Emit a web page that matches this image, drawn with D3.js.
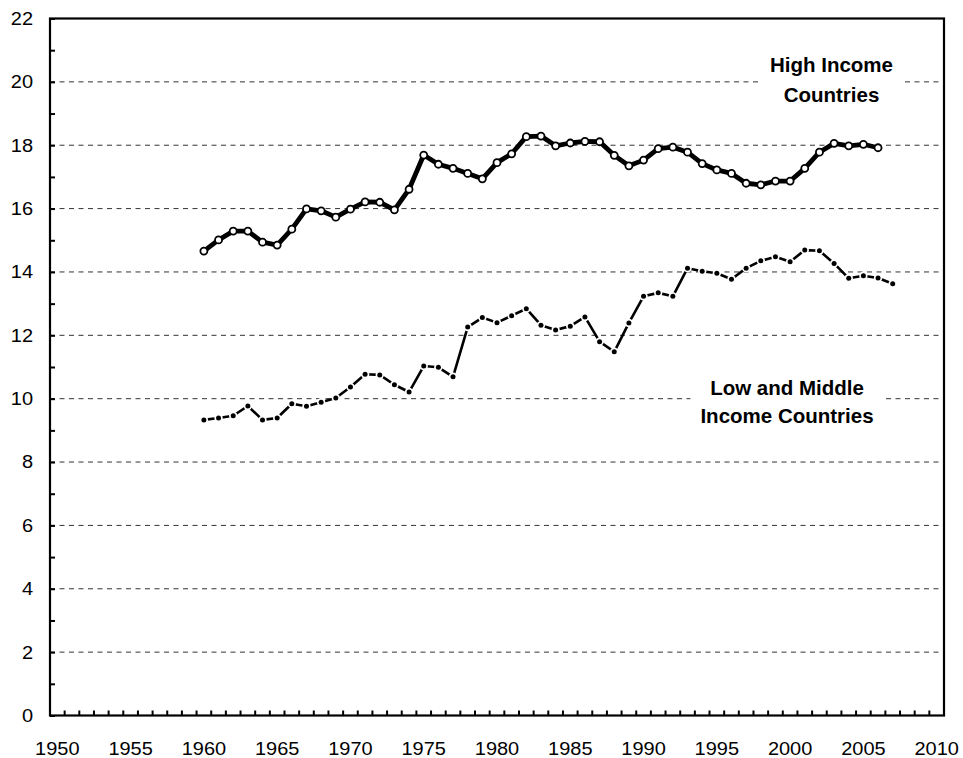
<!DOCTYPE html>
<html>
<head>
<meta charset="utf-8">
<script src="https://cdn.jsdelivr.net/npm/d3@7"></script>
<style>
  body { margin: 0; background: #fff; }
  svg { display: block; font-family: "Liberation Sans", Arial, sans-serif; }
</style>
</head>
<body>
<svg id="chart" width="963" height="758"></svg>
<script>
const categories = d3.range(1950, 2011);
const highYears = d3.range(1960, 2007);
const highValues = [14.66, 15.01, 15.29, 15.29, 14.94, 14.85, 15.35, 15.99, 15.93, 15.73,
  15.98, 16.21, 16.20, 15.96, 16.61, 17.69, 17.40, 17.27, 17.11, 16.94,
  17.45, 17.73, 18.27, 18.29, 17.98, 18.07, 18.12, 18.11, 17.68, 17.35,
  17.53, 17.89, 17.94, 17.78, 17.42, 17.22, 17.11, 16.80, 16.75, 16.87,
  16.87, 17.27, 17.78, 18.06, 17.98, 18.03, 17.92];
const lowYears = d3.range(1960, 2008);
const lowValues = [9.33, 9.39, 9.46, 9.77, 9.33, 9.39, 9.84, 9.76, 9.89, 10.02,
  10.37, 10.77, 10.75, 10.44, 10.21, 11.03, 10.99, 10.69, 12.26, 12.56,
  12.40, 12.62, 12.84, 12.32, 12.17, 12.29, 12.58, 11.80, 11.48, 12.39,
  13.23, 13.34, 13.23, 14.12, 14.02, 13.96, 13.77, 14.12, 14.35, 14.48,
  14.32, 14.69, 14.67, 14.27, 13.80, 13.88, 13.81, 13.63];
const yTicks = d3.range(0, 23, 1);
const xLabelTicks = d3.range(1950, 2011, 5);
const gridValues = d3.range(2, 21, 2);
const highLabel = ["High Income", "Countries"];
const lowLabel = ["Low and Middle", "Income Countries"];

const svg = d3.select("#chart");
const L = 50, R = 944, T = 18.5, B = 715.5;

const x = d3.scaleBand().domain(categories).range([L, R]).padding(0);
const y = d3.scaleLinear().domain([0, 22]).range([B, T]);
const cx = d => x(d) + x.bandwidth() / 2;

// gridlines
svg.append("g").selectAll("line").data(gridValues).join("line")
  .attr("x1", L).attr("x2", R)
  .attr("y1", d => y(d)).attr("y2", d => y(d))
  .attr("stroke", "#333").attr("stroke-width", 1)
  .attr("stroke-dasharray", "5,4.5");

// label backgrounds + text
function addLabel(lines, xc, baseline, lh, pad) {
  const g = svg.append("g");
  const rect = g.append("rect").attr("fill", "#fff");
  const t = g.append("text").attr("text-anchor", "middle")
    .style("font-weight", "bold").style("font-size", "20.5px").attr("fill", "#000");
  lines.forEach((s, i) => {
    t.append("tspan").attr("x", xc).attr("y", baseline + i * lh).text(s);
  });
  const bb = t.node().getBBox();
  rect.attr("x", bb.x - pad).attr("y", bb.y - 2).attr("width", bb.width + 2 * pad).attr("height", bb.height + 4);
}
addLabel(highLabel, 831.5, 72, 30, 10);
addLabel(lowLabel, 787, 394.5, 28, 10);

// lines
const line = (years) => d3.line().x((d, i) => cx(years[i])).y(d => y(d));

svg.append("path").datum(lowValues)
  .attr("d", line(lowYears))
  .attr("fill", "none").attr("stroke", "#000").attr("stroke-width", 2.6)
  .attr("stroke-linejoin", "round");
const lowG = svg.append("g");
lowG.selectAll("circle.w").data(lowValues).join("circle").attr("class", "w")
  .attr("cx", (d, i) => cx(lowYears[i])).attr("cy", d => y(d))
  .attr("r", 4.2).attr("fill", "#fff");
lowG.selectAll("circle.b").data(lowValues).join("circle").attr("class", "b")
  .attr("cx", (d, i) => cx(lowYears[i])).attr("cy", d => y(d))
  .attr("r", 2.5).attr("fill", "#000");

svg.append("path").datum(highValues)
  .attr("d", line(highYears))
  .attr("fill", "none").attr("stroke", "#000").attr("stroke-width", 4.8)
  .attr("stroke-linejoin", "round");
svg.append("g").selectAll("circle").data(highValues).join("circle")
  .attr("cx", (d, i) => cx(highYears[i])).attr("cy", d => y(d))
  .attr("r", 3.5).attr("fill", "#fff").attr("stroke", "#000").attr("stroke-width", 1.8);

const SX = 1.08;
// y axis
const yAxis = d3.axisLeft(y).tickValues(yTicks).tickSizeInner(-5).tickSizeOuter(0)
  .tickFormat(d => d % 2 === 0 ? d : "");
const gy = svg.append("g").attr("transform", `translate(${L},0)`).call(yAxis);
gy.select(".domain").remove();
gy.selectAll(".tick line").attr("stroke", "#000").attr("stroke-width", 2);
gy.selectAll(".tick text")
  .style("font-size", "18.5px").style("font-family", "'Liberation Sans', Arial, sans-serif")
  .attr("fill", "#000").attr("x", -17 / SX).attr("transform", `scale(${SX},1)`);

// x axis labels
const xAxis = d3.axisBottom(x).tickValues(xLabelTicks).tickSize(0).tickPadding(26);
const gx = svg.append("g").attr("transform", `translate(0,${B})`).call(xAxis);
gx.select(".domain").remove();
gx.selectAll(".tick text")
  .style("font-size", "18.5px").style("font-family", "'Liberation Sans', Arial, sans-serif")
  .attr("fill", "#000").attr("transform", `scale(${SX},1)`);

// x tick marks at category boundaries
svg.append("g").selectAll("line").data(categories.slice(1)).join("line")
  .attr("x1", d => x(d)).attr("x2", d => x(d))
  .attr("y1", B).attr("y2", B - 5)
  .attr("stroke", "#000").attr("stroke-width", 2);

// plot frame
svg.append("rect").attr("x", L).attr("y", T).attr("width", R - L).attr("height", B - T)
  .attr("fill", "none").attr("stroke", "#000").attr("stroke-width", 2.2);
</script>
</body>
</html>
